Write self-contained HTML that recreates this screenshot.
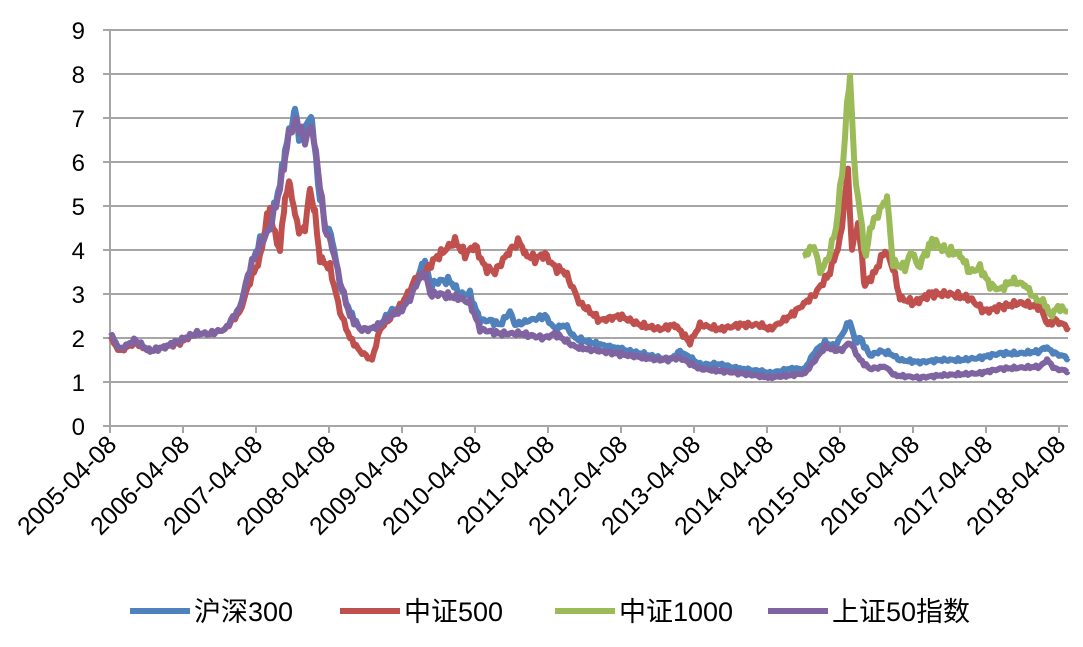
<!DOCTYPE html>
<html><head><meta charset="utf-8"><style>
body{margin:0;background:#fff}
text{font-family:"Liberation Sans","Noto Sans CJK SC",sans-serif;fill:#000}
</style></head><body>
<svg id="s" width="1083" height="642" xmlns="http://www.w3.org/2000/svg"></svg>
<script>
const s=document.getElementById('s');let h='';
const Y=v=>426-44*v;
for(let i=0;i<=9;i++){h+=`<line x1="103" x2="1068" y1="${Y(i)}" y2="${Y(i)}" stroke="#a6a6a6" stroke-width="2"/>`;
h+=`<text x="85" y="${Y(i)+9}" font-size="24" text-anchor="end">${i}</text>`;}
h+=`<line x1="110" x2="110" y1="30" y2="433" stroke="#a6a6a6" stroke-width="2"/>`;
for(let i=0;i<14;i++){const x=110+73*i;h+=`<line x1="${x}" x2="${x}" y1="426" y2="433" stroke="#a6a6a6" stroke-width="2"/>`;
h+=`<text transform="translate(${x+8},${446}) rotate(-45)" font-size="25" text-anchor="end">${2005+i}-04-08</text>`;}
const ser={
'#4f81bd':[110,2.0,120,1.7,135,1.9,150,1.7,165,1.8,180,1.9,195,2.1,210,2.1,225,2.2,240,2.7,250,3.6,260,4.2,270,4.6,280,5.5,285,6.3,290,6.7,295,7.2,300,6.5,305,6.8,312,7.0,318,5.5,325,4.6,332,4.3,340,3.2,350,2.6,360,2.2,370,2.2,380,2.3,390,2.6,400,2.7,410,3.0,418,3.4,425,3.8,430,3.2,440,3.3,450,3.3,460,3.0,470,3.0,480,2.4,490,2.4,500,2.3,510,2.6,515,2.3,530,2.4,545,2.5,555,2.2,565,2.3,575,2.0,590,1.9,610,1.8,630,1.7,650,1.6,670,1.5,680,1.7,700,1.4,720,1.4,740,1.3,760,1.25,770,1.2,790,1.3,805,1.3,815,1.7,825,1.9,835,1.8,845,2.2,850,2.4,855,1.9,860,2.0,870,1.6,880,1.7,890,1.65,900,1.5,920,1.45,940,1.5,960,1.5,980,1.55,990,1.6,1000,1.65,1020,1.65,1040,1.7,1045,1.8,1055,1.65,1068,1.55],
'#c0504d':[110,2.0,120,1.7,135,1.9,150,1.7,165,1.8,180,1.9,195,2.1,210,2.1,225,2.2,240,2.6,250,3.3,260,3.8,265,4.5,270,5.0,273,4.5,280,4.0,285,5.2,290,5.5,295,4.8,300,4.4,305,4.5,310,5.4,315,4.8,320,3.8,330,3.6,340,2.6,350,2.0,360,1.7,372,1.5,380,2.2,400,2.7,415,3.3,425,3.5,435,3.8,445,4.0,455,4.2,465,3.9,475,4.1,485,3.6,495,3.5,510,4.0,520,4.2,525,3.9,535,3.8,545,3.9,555,3.6,565,3.5,580,2.8,600,2.4,620,2.5,640,2.3,660,2.2,675,2.3,690,1.9,700,2.3,720,2.2,740,2.3,760,2.3,770,2.2,790,2.5,805,2.8,815,3.0,830,3.5,840,4.2,848,5.8,852,4.0,858,4.6,865,3.2,875,3.5,885,4.0,893,3.6,900,2.9,915,2.8,930,3.0,950,3.0,970,2.9,985,2.6,1000,2.7,1020,2.8,1040,2.7,1048,2.3,1055,2.4,1068,2.25],
'#9bbb59':[803,3.8,808,4.0,815,4.05,820,3.5,828,3.8,836,4.5,843,6.0,850,8.1,854,6.0,858,5.2,862,4.5,866,3.8,870,4.5,880,4.9,887,5.2,893,3.7,905,3.6,912,4.0,918,3.6,925,3.9,932,4.2,945,4.0,960,3.9,970,3.5,980,3.6,990,3.2,1000,3.1,1012,3.3,1025,3.2,1035,2.9,1045,2.8,1050,2.5,1058,2.7,1068,2.6],
'#8064a2':[110,2.1,120,1.75,135,1.95,150,1.7,165,1.8,180,1.95,195,2.1,210,2.1,225,2.2,240,2.7,250,3.6,260,4.1,270,4.5,280,5.4,285,6.1,290,6.7,297,6.9,305,6.5,312,6.8,320,5.5,325,4.5,332,4.1,340,3.3,350,2.5,360,2.2,370,2.2,380,2.3,390,2.5,400,2.6,410,2.9,418,3.3,425,3.5,430,3.0,440,3.0,460,2.9,470,2.8,480,2.2,500,2.1,520,2.1,545,2.0,555,2.1,575,1.8,600,1.7,630,1.6,660,1.5,680,1.55,700,1.3,740,1.2,770,1.1,790,1.15,805,1.2,815,1.5,825,1.8,840,1.7,850,1.9,860,1.5,870,1.3,885,1.35,895,1.15,920,1.1,940,1.15,980,1.2,1000,1.3,1040,1.35,1047,1.5,1055,1.3,1068,1.25]};
for(const c in ser){const a=ser[c];let p=[];
for(let i=0;i<a.length-2;i+=2){const x0=a[i],y0=a[i+1],x1=a[i+2],y1=a[i+3];
for(let x=x0;x<x1;x+=2){const t=(x-x0)/(x1-x0);const v=y0+(y1-y0)*t+(Math.sin(x*1.7)+Math.sin(x*0.9))*0.03*y0/2;p.push(x+','+Y(v).toFixed(1));}}
p.push(a[a.length-2]+','+Y(a[a.length-1]));
h+=`<polyline points="${p.join(' ')}" fill="none" stroke="${c}" stroke-width="6" stroke-linejoin="round"/>`;}
const L=[['#4f81bd',130,'沪深300'],['#c0504d',340,'中证500'],['#9bbb59',555,'中证1000'],['#8064a2',768,'上证50指数']];
for(const [c,x,t] of L){h+=`<line x1="${x}" x2="${x+60}" y1="611" y2="611" stroke="${c}" stroke-width="6"/><text x="${x+64}" y="621" font-size="27">${t}</text>`;}
s.innerHTML=h;
</script>
</body></html>
